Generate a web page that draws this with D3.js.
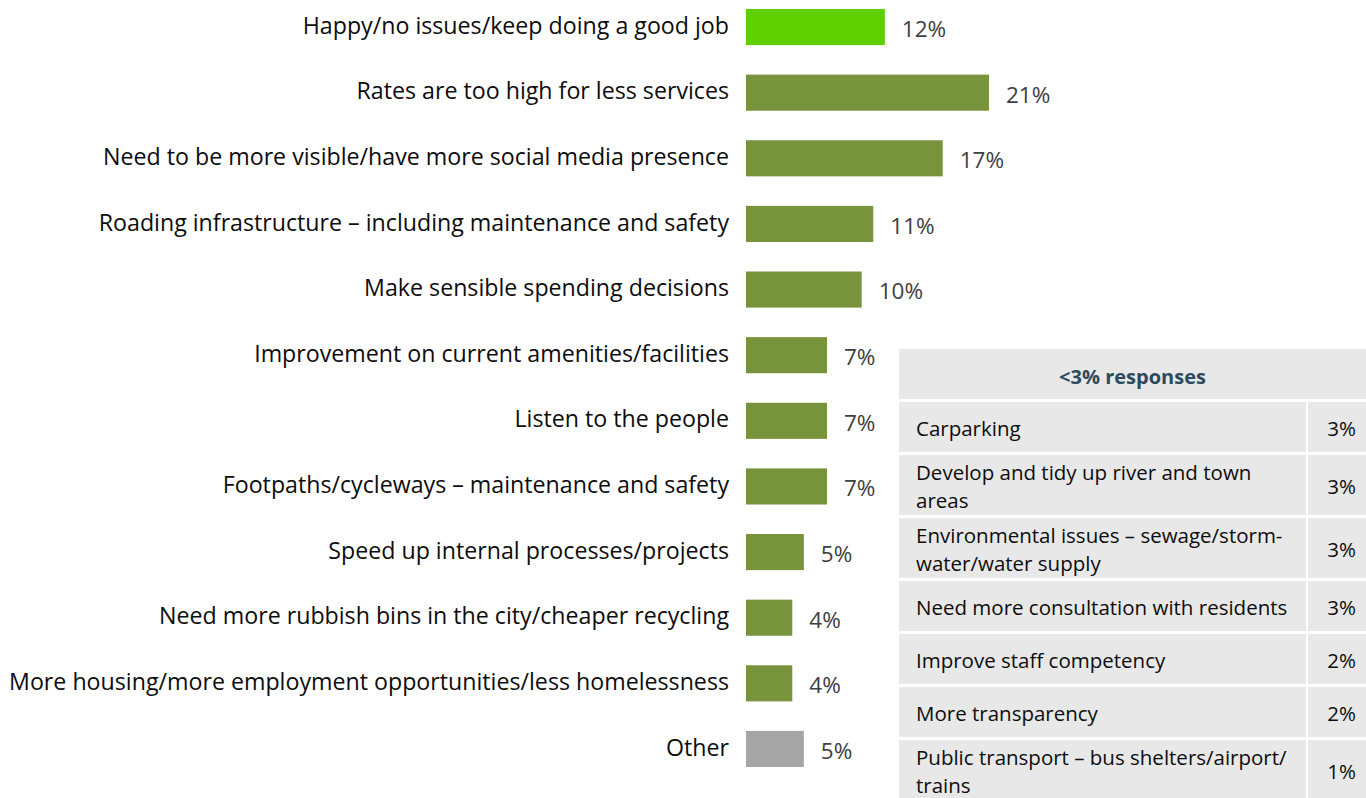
<!DOCTYPE html>
<html>
<head>
<meta charset="utf-8">
<script src="https://cdn.jsdelivr.net/npm/d3@7"></script>
<style>
  html, body { margin: 0; padding: 0; background: #ffffff; }
  svg { display: block; }
  text { font-family: "Open Sans", Lato, sans-serif; }
</style>
</head>
<body>
<svg id="chart" width="1366" height="798"></svg>
<script>
// Main responses (percent of respondents)
const categories = [
  "Happy/no issues/keep doing a good job",
  "Rates are too high for less services",
  "Need to be more visible/have more social media presence",
  "Roading infrastructure \u2013 including maintenance and safety",
  "Make sensible spending decisions",
  "Improvement on current amenities/facilities",
  "Listen to the people",
  "Footpaths/cycleways \u2013 maintenance and safety",
  "Speed up internal processes/projects",
  "Need more rubbish bins in the city/cheaper recycling",
  "More housing/more employment opportunities/less homelessness",
  "Other"
];
const values = [12, 21, 17, 11, 10, 7, 7, 7, 5, 4, 4, 5];
const barGroups = ["positive", "issue", "issue", "issue", "issue", "issue", "issue", "issue", "issue", "issue", "issue", "other"];

// Smaller responses listed in the side table
const minorTitle = "<3% responses";
const minorLabels = [
  ["Carparking"],
  ["Develop and tidy up river and town", "areas"],
  ["Environmental issues \u2013 sewage/storm-", "water/water supply"],
  ["Need more consultation with residents"],
  ["Improve staff competency"],
  ["More transparency"],
  ["Public transport \u2013 bus shelters/airport/", "trains"]
];
const minorValues = [3, 3, 3, 3, 2, 2, 1];

const svg = d3.select("#chart");

const colour = d3.scaleOrdinal()
  .domain(["positive", "issue", "other"])
  .range(["#5fcf00", "#77933c", "#a5a5a5"]);

const x = d3.scaleLinear().domain([0, 21]).range([746, 989]);
const y = d3.scaleBand()
  .domain(categories)
  .range([9, 767])
  .paddingInner(0.45)
  .paddingOuter(0);

const rows = categories.map((c, i) => ({ c, v: values[i], g: barGroups[i] }));

// Bars
svg.append("g").selectAll("rect")
  .data(rows)
  .join("rect")
  .attr("x", x(0))
  .attr("y", d => y(d.c))
  .attr("width", d => x(d.v) - x(0))
  .attr("height", y.bandwidth())
  .attr("fill", d => colour(d.g));

// Category labels
svg.append("g").selectAll("text")
  .data(rows)
  .join("text")
  .attr("x", 729)
  .attr("y", d => y(d.c) + y.bandwidth() / 2 - 1)
  .attr("dy", "0.33em")
  .attr("text-anchor", "end")
  .attr("font-size", 23.2)
  .attr("fill", "#0d0d0d")
  .text(d => d.c);

// Value labels
svg.append("g").selectAll("text")
  .data(rows)
  .join("text")
  .attr("x", d => x(d.v) + 17)
  .attr("y", d => y(d.c) + y.bandwidth() / 2 + 2)
  .attr("dy", "0.35em")
  .attr("font-size", 22.5)
  .attr("fill", "#404040")
  .text(d => d.v + "%");

// Side table of minor responses
const tLeft = 899, tRight = 1366, colSplit = 1306, gap = 3;
const table = svg.append("g");
const headerTop = 349, headerH = 50;
table.append("rect")
  .attr("x", tLeft).attr("y", headerTop)
  .attr("width", tRight - tLeft).attr("height", headerH)
  .attr("fill", "#e8e8e8");
table.append("text")
  .attr("x", (tLeft + tRight) / 2)
  .attr("y", headerTop + headerH / 2 + 3)
  .attr("dy", "0.35em")
  .attr("text-anchor", "middle")
  .attr("font-size", 20)
  .attr("font-weight", "bold")
  .attr("fill", "#2d4a5c")
  .text(minorTitle);

let rowTop = headerTop + headerH + gap;
minorLabels.forEach((lines, i) => {
  const h = lines.length > 1 ? 60 : 50;
  const gRow = table.append("g");
  gRow.append("rect")
    .attr("x", tLeft).attr("y", rowTop)
    .attr("width", colSplit - tLeft).attr("height", h)
    .attr("fill", "#e8e8e8");
  gRow.append("rect")
    .attr("x", colSplit + 2).attr("y", rowTop)
    .attr("width", tRight - colSplit - 2).attr("height", h)
    .attr("fill", "#e8e8e8");
  const mid = rowTop + h / 2 + 2;
  const lh = 28;
  lines.forEach((ln, j) => {
    gRow.append("text")
      .attr("x", 916)
      .attr("y", mid + (j - (lines.length - 1) / 2) * lh)
      .attr("dy", "0.35em")
      .attr("font-size", 20.5)
      .attr("fill", "#0d0d0d")
      .text(ln);
  });
  gRow.append("text")
    .attr("x", 1356)
    .attr("y", mid)
    .attr("dy", "0.35em")
    .attr("text-anchor", "end")
    .attr("font-size", 20.5)
    .attr("fill", "#0d0d0d")
    .text(minorValues[i] + "%");
  rowTop += h + gap;
});
</script>
</body>
</html>
